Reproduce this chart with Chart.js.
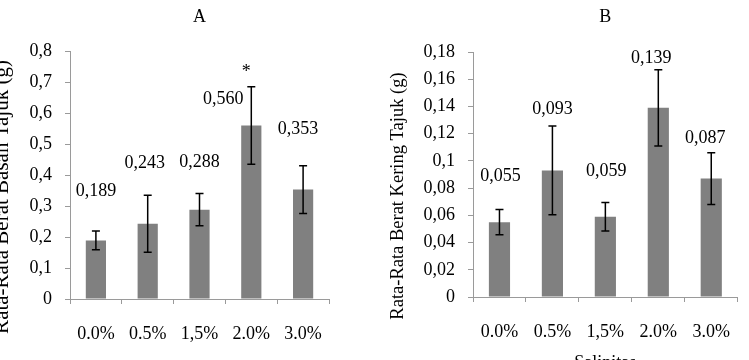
<!DOCTYPE html>
<html>
<head>
<meta charset="utf-8">
<script src="https://cdn.jsdelivr.net/npm/chart.js@4.4.1/dist/chart.umd.min.js"></script>
<style>
  body { margin: 0; background: #fff; }
  .box { position: absolute; top: 0; height: 360px; }
  #boxA { left: 0; width: 345px; }
  #boxB { left: 380px; width: 369px; }
</style>
</head>
<body>
<div class="box" id="boxA"><canvas id="chartA"></canvas></div>
<div class="box" id="boxB"><canvas id="chartB"></canvas></div>
<script>
// salinity levels
const categories = ["0.0%", "0.5%", "1,5%", "2.0%", "3.0%"];

// A: berat basah tajuk
const basahValues = [0.189, 0.243, 0.288, 0.560, 0.353];
const basahErrors = [0.030, 0.092, 0.052, 0.125, 0.077];
const basahTicks = ["0", "0,1", "0,2", "0,3", "0,4", "0,5", "0,6", "0,7", "0,8"];

// B: berat kering tajuk
const keringValues = [0.055, 0.093, 0.059, 0.139, 0.087];
const keringErrors = [0.0093, 0.0326, 0.0105, 0.028, 0.019];
const keringTicks = ["0", "0,02", "0,04", "0,06", "0,08", "0,1", "0,12", "0,14", "0,16", "0,18"];

const FONT = "'Liberation Serif', 'Times New Roman', serif";
const AXIS = "#9a9a9a";

// error bars, value labels and the loose texts
const extras = {
  id: "extras",
  afterDatasetsDraw(chart, args, o) {
    const ctx = chart.ctx;
    const area = chart.chartArea;
    const y = chart.scales.y;
    const vals = chart.data.datasets[0].data;
    const bars = chart.getDatasetMeta(0).data;
    ctx.save();
    ctx.font = "18px " + FONT;
    ctx.fillStyle = "#000";
    ctx.strokeStyle = "#000";
    ctx.lineWidth = 1.5;

    bars.forEach((bar, i) => {
      const top = y.getPixelForValue(vals[i] + o.errors[i]);
      const bot = y.getPixelForValue(vals[i] - o.errors[i]);
      ctx.beginPath();
      ctx.moveTo(bar.x, top); ctx.lineTo(bar.x, bot);
      ctx.moveTo(bar.x - 4, top); ctx.lineTo(bar.x + 4, top);
      ctx.moveTo(bar.x - 4, bot); ctx.lineTo(bar.x + 4, bot);
      ctx.stroke();

      const [dx, dy] = o.labelShift[i];
      ctx.textAlign = "center";
      ctx.textBaseline = "middle";
      ctx.fillText(vals[i].toFixed(3).replace(".", ","), bar.x + dx, top - dy);

      if (o.star && o.star.index === i) {
        ctx.fillText("*", bar.x + o.star.dx, top - o.star.dy);
      }
    });

    // panel letter
    ctx.textAlign = "center";
    ctx.textBaseline = "middle";
    ctx.fillText(o.title, (area.left + area.right) / 2, 17);

    // y axis title
    ctx.save();
    ctx.font = o.yTitleSize + "px " + FONT;
    ctx.translate(o.yTitleX, o.yTitleY);
    ctx.rotate(-Math.PI / 2);
    ctx.textBaseline = "alphabetic";
    ctx.fillText(o.yTitle, 0, 0);
    ctx.restore();

    if (o.xTitle) {
      ctx.textBaseline = "top";
      ctx.fillText(o.xTitle, (area.left + area.right) / 2, 354);
    }
    ctx.restore();
  }
};

function makeChart(id, values, ticks, max, step, opt) {
  return new Chart(document.getElementById(id), {
    type: "bar",
    data: {
      labels: categories,
      datasets: [{
        data: values,
        backgroundColor: "#808080",
        borderWidth: 0,
        categoryPercentage: 1,
        barPercentage: opt.barPct
      }]
    },
    options: {
      responsive: true,
      maintainAspectRatio: false,
      animation: false,
      layout: { padding: opt.padding },
      plugins: {
        legend: { display: false },
        tooltip: { enabled: false },
        extras: opt.extras
      },
      scales: {
        x: {
          ticks: { color: "#000", font: { family: FONT, size: 18 }, padding: 19, maxRotation: 0, autoSkip: false },
          grid: { drawOnChartArea: false, tickLength: 5, color: AXIS, offset: true },
          border: { color: AXIS },
          afterFit: s => { s.height = opt.xHeight; }
        },
        y: {
          min: 0,
          max: max,
          ticks: {
            stepSize: step,
            autoSkip: false,
            color: "#000",
            font: { family: FONT, size: 18 },
            padding: 13,
            callback: (v, i) => ticks[i]
          },
          grid: { drawOnChartArea: false, tickLength: 5, color: AXIS },
          border: { color: AXIS },
          afterFit: s => { s.width = opt.yWidth; }
        }
      }
    },
    plugins: [extras]
  });
}

makeChart("chartA", basahValues, basahTicks, 0.8, 0.1, {
  barPct: 0.39,
  padding: { top: 51, left: 0, right: 16, bottom: 0 },
  xHeight: 61,
  yWidth: 70,
  extras: {
    title: "A",
    yTitle: "Rata-Rata Berat Basah Tajuk (g)",
    yTitleSize: 21,
    yTitleX: 8,
    yTitleY: 197,
    errors: basahErrors,
    labelShift: [[0, 40], [-3, 32], [0, 31], [-28, -13], [-5, 36]],
    star: { index: 3, dx: -5, dy: 14 }
  }
});

makeChart("chartB", keringValues, keringTicks, 0.18, 0.02, {
  barPct: 0.4,
  padding: { top: 52, left: 0, right: 0, bottom: 0 },
  xHeight: 63,
  yWidth: 93,
  extras: {
    title: "B",
    yTitle: "Rata-Rata Berat Kering Tajuk (g)",
    yTitleSize: 18.5,
    yTitleX: 23,
    yTitleY: 196,
    xTitle: "Salinitas",
    errors: keringErrors,
    labelShift: [[1, 33], [0, 17], [1, 31], [-7, 11], [-6, 14]]
  }
});
</script>
</body>
</html>
